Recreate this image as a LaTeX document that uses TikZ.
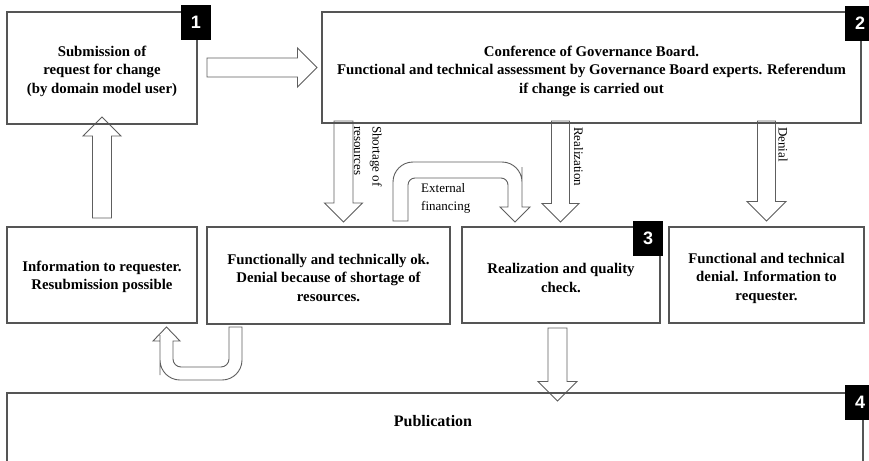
\documentclass[tikz,border=0pt]{standalone}
\usepackage{fontspec}
\setmainfont{Liberation Serif}
\newfontfamily\digitfont{Liberation Sans}
\usetikzlibrary{calc}

\definecolor{boxgray}{HTML}{555555}
\definecolor{arrowgray}{HTML}{5E5E5E}

\newcommand\boxfont{\fontsize{14.8}{18.5}\selectfont\bfseries}
\newcommand\pubfont{\fontsize{16}{18.5}\selectfont\bfseries}
\newcommand\labelfont{\fontsize{13}{18.5}\selectfont}

\tikzset{
  box/.style={draw=boxgray, line width=1.1pt, rectangle, inner sep=0pt},
  boxtext/.style={align=center, font=\boxfont, inner sep=0pt},
  badge/.style={fill=black, text=white, rectangle, inner sep=0pt,
    minimum width=30pt, minimum height=35pt, font=\digitfont\fontsize{18}{18}\selectfont\bfseries},
  arrowline/.style={draw=arrowgray, line width=0.9pt, fill=white, line join=miter},
  lbl/.style={font=\labelfont, inner sep=0pt}
}

% straight block arrow: #1 tail, #2 tip, #3 shaft half width, #4 head half width
\newcommand\blockarrow[4]{%
  \coordinate (hb) at ($(#2)!#4!(#1)$);
  \draw[arrowline] ($(#1)!#3!90:(#2)$) -- ($(hb)!#3!90:(#2)$) -- ($(hb)!#4!90:(#2)$)
    -- (#2) -- ($(hb)!#4!-90:(#2)$) -- ($(hb)!#3!-90:(#2)$) -- ($(#1)!#3!-90:(#2)$) -- cycle;
}

\begin{document}
\begin{tikzpicture}[x=1pt, y=-1pt]
\fill[white] (0,0) rectangle (869,460);
\useasboundingbox (0,0) rectangle (869,460);

% arrow end points
\coordinate (a1t) at (207,67.5);   \coordinate (a1h) at (317,67.5);
\coordinate (a2t) at (102,218);    \coordinate (a2h) at (102,117);
\coordinate (a3t) at (343.5,121);  \coordinate (a3h) at (343.5,222);
\coordinate (a4t) at (560.5,121);  \coordinate (a4h) at (560.5,222);
\coordinate (a5t) at (766.5,121);  \coordinate (a5h) at (766.5,221);
\coordinate (a6t) at (557.5,328);  \coordinate (a6h) at (557.5,401);
\coordinate (u1s) at (400.5,221);  \coordinate (u1e) at (515,222);
\coordinate (u2s) at (235.5,327);  \coordinate (u2e) at (166.5,327);

% straight block arrows
\blockarrow{a1t}{a1h}{9.5pt}{19.5pt}
\blockarrow{a2t}{a2h}{9.5pt}{19pt}
\blockarrow{a3t}{a3h}{9.5pt}{19pt}
\blockarrow{a4t}{a4h}{9pt}{18.5pt}
\blockarrow{a5t}{a5h}{9pt}{19.5pt}
\blockarrow{a6t}{a6h}{9.5pt}{19.5pt}

% U-turn: external financing
\draw[arrowline] ($(u1s)+(-7.5,0)$) -- ++(0,-30) [rounded corners=20pt] -- ++(0,-29)
  -- ++(129,0) -- ++(0,25) [sharp corners] -- ++(0,20) -- ++(8,0) -- (u1e)
  -- ++(-15,-15) -- ++(8,0) -- ++(0,-5) [rounded corners=7pt] -- ++(0,-24)
  -- ++(-100,0) -- ++(0,15) [sharp corners] -- ++(0,28) -- cycle;

% U-turn: back to requester
\draw[arrowline] ($(u2s)+(6.5,0)$) -- ++(0,25) [rounded corners=20pt] -- ++(0,28)
  -- ++(-82,0) -- ++(0,-25) [sharp corners] -- ++(0,-14) -- ++(-7,0) -- (u2e)
  -- ++(13.5,14) -- ++(-7,0) -- ++(0,5) [rounded corners=8pt] -- ++(0,21)
  -- ++(56,0) -- ++(0,-15) [sharp corners] -- ++(0,-25) -- cycle;

% process boxes
\node[box, minimum width=190pt, minimum height=112pt] (req) at (102,68) {};
\node[box, minimum width=539pt, minimum height=111pt] (board) at (591.5,67.5) {};
\node[box, minimum width=190pt, minimum height=96pt] (info) at (102,275) {};
\node[box, minimum width=243pt, minimum height=97pt] (short) at (328.5,275.5) {};
\node[box, minimum width=198pt, minimum height=96pt] (real) at (561,275) {};
\node[box, minimum width=195pt, minimum height=96pt] (deny) at (766.5,275) {};
\node[box, minimum width=856pt, minimum height=90pt] (pub) at (435,438) {};

% box texts
\node[boxtext] (reqtext) at ($(req.center)+(0,3)$)
  {Submission of\\request for change\\(by domain model user)};
\node[boxtext] (boardtext) at ($(board.center)+(0,3.5)$)
  {Conference of Governance Board.\\Functional and technical assessment by Governance Board experts. Referendum\\if change is carried out};
\node[boxtext] (infotext) at ($(info.center)+(0,2)$)
  {Information to requester.\\Resubmission possible};
\node[boxtext] (shorttext) at ($(short.center)+(0,2)$)
  {Functionally and technically ok.\\Denial because of shortage of\\resources.};
\node[boxtext] (realtext) at ($(real.center)+(0,3)$)
  {Realization and quality\\check.};
\node[boxtext] (denytext) at ($(deny.center)+(0,3)$)
  {Functional and technical\\denial. Information to\\requester.};
\node[boxtext, font=\pubfont] (pubtext) at (433,421) {Publication};

% arrow labels
\node[lbl, rotate=-90, anchor=west, align=left] (lshort) at (368,126) {Shortage of\\resources};
\node[lbl, rotate=-90, anchor=west] (lreal) at (578.5,127) {Realization};
\node[lbl, rotate=-90, anchor=west] (ldeny) at (783,127) {Denial};
\node[lbl, anchor=west, align=left] (lfin) at (421,198.5) {External\\financing};

% step numbers
\node[badge] (n1) at (196,22.5) {1};
\node[badge] (n2) at (860,23.5) {2};
\node[badge] (n3) at (648,238.5) {3};
\node[badge] (n4) at (860,402) {4};
\end{tikzpicture}
\end{document}
